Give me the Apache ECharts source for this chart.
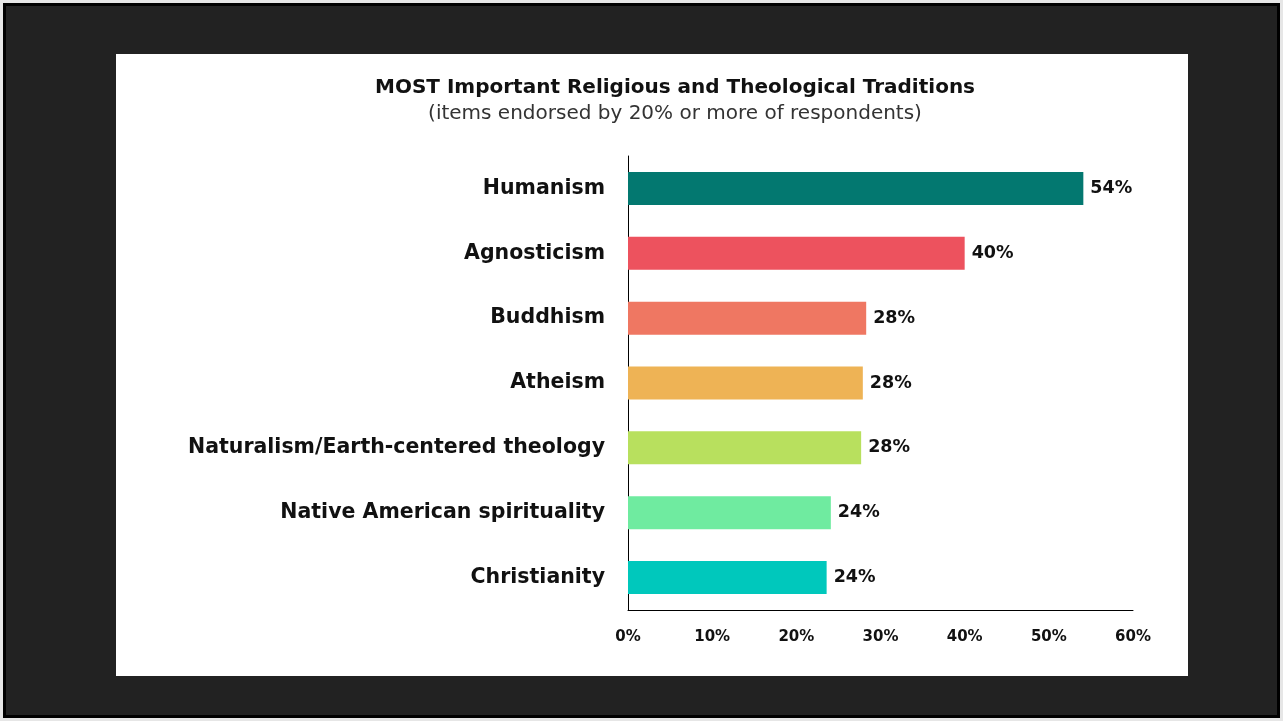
<!DOCTYPE html>
<html>
<head>
<meta charset="utf-8">
<script src="https://cdn.jsdelivr.net/npm/echarts@6/dist/echarts.min.js"></script>
<style>
html,body{margin:0;padding:0;width:1283px;height:721px;background:#e6e6e6;overflow:hidden;}
#frame{position:absolute;left:3px;top:3px;width:1277px;height:715px;box-sizing:border-box;border:3px solid #000;background:#222222;}
#panel{position:absolute;left:116px;top:54px;width:1072px;height:622px;background:#fff;}
#chart{width:1072px;height:622px;}
</style>
</head>
<body>
<div id="frame"></div>
<div id="panel"><div id="chart"></div></div>
<script>
const titleText = 'MOST Important Religious and Theological Traditions';
const subtitleText = '(items endorsed by 20% or more of respondents)';
const categories = ['Humanism','Agnosticism','Buddhism','Atheism','Naturalism/Earth-centered theology','Native American spirituality','Christianity'];
const values = [54.1, 40.0, 28.3, 27.9, 27.7, 24.1, 23.6];
const barColors = ['#037870','#ED525E','#EF7762','#EEB355','#B8E05E','#6FEBA0','#00C8BC'];
const axisMax = 60;
const axisInterval = 10;

const FONT = 'DejaVu Sans';
const chart = echarts.init(document.getElementById('chart'), null, {renderer:'canvas'});
chart.setOption({
  backgroundColor: '#fff',
  animation: false,
  graphic: [
    {type:'text', x:559, y:34, style:{text:titleText, font:'bold 20px "'+FONT+'"', fill:'#111', textAlign:'center', textVerticalAlign:'middle'}},
    {type:'text', x:559, y:60, style:{text:subtitleText, font:'20px "'+FONT+'"', fill:'#333', textAlign:'center', textVerticalAlign:'middle'}}
  ],
  grid: {left:512, right:55, top:102, bottom:66, containLabel:false},
  xAxis: {
    type:'value', min:0, max:axisMax, interval:axisInterval,
    axisLine:{show:true, lineStyle:{color:'#000', width:1}},
    axisTick:{show:false}, splitLine:{show:false},
    axisLabel:{formatter:v=>v+'%', color:'#111', fontFamily:FONT, fontWeight:'bold', fontSize:15, margin:20}
  },
  yAxis: {
    type:'category', data:categories, inverse:true,
    axisLine:{show:true, lineStyle:{color:'#000', width:1}},
    axisTick:{show:false},
    axisLabel:{color:'#111', fontFamily:FONT, fontWeight:'bold', fontSize:20.5, margin:23}
  },
  series: [{
    type:'bar', data:values.map((v,i)=>({value:v, itemStyle:{color:barColors[i]}})),
    barWidth:33,
    label:{show:true, position:'right', distance:7, formatter:p=>Math.round(p.value)+'%', color:'#111', fontFamily:FONT, fontWeight:'bold', fontSize:17.5}
  }]
});
</script>
</body>
</html>
